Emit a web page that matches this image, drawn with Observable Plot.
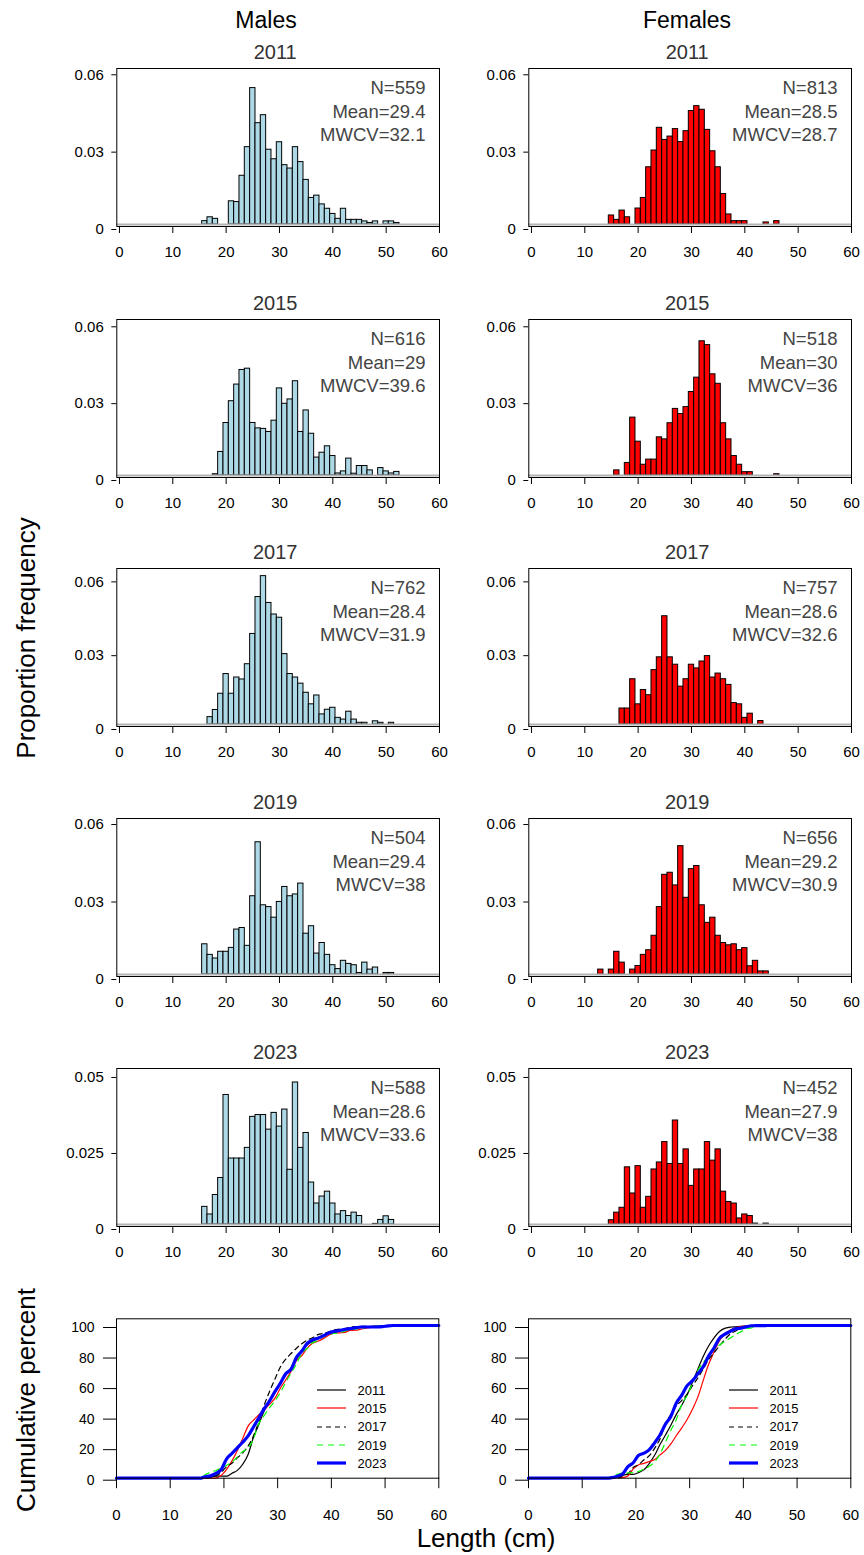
<!DOCTYPE html>
<html><head><meta charset="utf-8">
<script src="https://cdn.jsdelivr.net/npm/d3@7"></script>
<script src="https://cdn.jsdelivr.net/npm/@observablehq/plot@0.6"></script>
<style>
body{margin:0;background:#fff;font-family:"Liberation Sans",Arial,sans-serif;}
#root{position:relative;width:864px;height:1555px;overflow:hidden;background:#fff;}
.panel{position:absolute;}
.lbl{position:absolute;white-space:nowrap;color:#000;transform:translate(-50%,-50%);}
.rot{transform:translate(-50%,-50%) rotate(-90deg);}
.leg{position:absolute;font-size:13px;}
.legrow{display:flex;align-items:center;height:18.3px;}
.legrow svg{margin-right:12px;}
</style></head><body><div id="root"></div><script>
const FONT = '"Liberation Sans", Arial, sans-serif';
const years = [2011, 2015, 2017, 2019, 2023];
const xTicks = [0, 10, 20, 30, 40, 50, 60];
const yTicks = [[0,0.03,0.06],[0,0.03,0.06],[0,0.03,0.06],[0,0.03,0.06],[0,0.025,0.05]];
const yTickLabels = [["0","0.03","0.06"],["0","0.03","0.06"],["0","0.03","0.06"],["0","0.03","0.06"],["0","0.025","0.05"]];
const yMax = [0.0605, 0.0609, 0.0634, 0.0604, 0.0513];
const cumTicks = [0, 20, 40, 60, 80, 100];

const maleN = [559, 616, 762, 504, 588];
const maleMean = ["29.4", "29", "28.4", "29.4", "28.6"];
const maleMWCV = ["32.1", "39.6", "31.9", "38", "33.6"];
const femaleN = [813, 518, 757, 656, 452];
const femaleMean = ["28.5", "30", "28.6", "29.2", "27.9"];
const femaleMWCV = ["28.7", "36", "32.6", "30.9", "38"];

// [length (cm), proportion]
const m2011 = [[16,.0013],[17,.0028],[18,.0022],[21,.009],[22,.0087],[23,.0189],[24,.030],[25,.0529],[26,.0393],[27,.0424],[28,.029],[29,.0253],[30,.0319],[31,.023],[32,.0217],[33,.030],[34,.0242],[35,.0173],[36,.0103],[37,.0112],[38,.0078],[39,.0061],[40,.0041],[41,.0022],[42,.0061],[43,.0018],[44,.0018],[45,.0018],[46,.0012],[47,.0006],[48,.0012],[50,.0012],[51,.0012],[52,.0006]];
const f2011 = [[15,.0035],[16,.0018],[17,.0054],[18,.0028],[20,.0062],[21,.0103],[22,.0222],[23,.0287],[24,.0375],[25,.0328],[26,.0341],[27,.037],[28,.032],[29,.0362],[30,.044],[31,.0459],[32,.0445],[33,.0367],[34,.0284],[35,.0222],[36,.0118],[37,.0039],[38,.0013],[39,.0013],[40,.0013],[44,.0008],[46,.0013]];
const m2015 = [[18,.0005],[19,.0092],[20,.0205],[21,.029],[22,.0355],[23,.0412],[24,.0417],[25,.0205],[26,.0184],[27,.0182],[28,.017],[29,.0214],[30,.034],[31,.028],[32,.0297],[33,.0368],[34,.017],[35,.0254],[36,.0163],[37,.007],[38,.0089],[39,.0114],[40,.0076],[41,.0008],[42,.0016],[43,.0066],[44,.0007],[45,.0037],[46,.0037],[47,.002],[49,.0029],[50,.0016],[51,.0008],[52,.0014]];
const f2015 = [[16,.002],[18,.0049],[19,.0226],[20,.0132],[21,.0042],[22,.0062],[23,.0062],[24,.0149],[25,.0141],[26,.0204],[27,.026],[28,.024],[29,.0267],[30,.0326],[31,.0382],[32,.0524],[33,.0509],[34,.0395],[35,.0358],[36,.0204],[37,.0141],[38,.0076],[39,.0042],[40,.0013],[41,.0013],[46,.0005]];
const m2017 = [[17,.003],[18,.0059],[19,.0125],[20,.0205],[21,.0125],[22,.0191],[23,.0183],[24,.0245],[25,.0368],[26,.0518],[27,.0603],[28,.0494],[29,.0447],[30,.0434],[31,.0286],[32,.0205],[33,.0191],[34,.0166],[35,.0129],[36,.0082],[37,.0118],[38,.0041],[39,.006],[40,.0068],[41,.0027],[42,.002],[43,.0052],[44,.002],[45,.0007],[46,.0007],[48,.0013],[49,.0007],[51,.0007]];
const f2017 = [[17,.0065],[18,.0065],[19,.0184],[20,.0082],[21,.014],[22,.0119],[23,.0221],[24,.0273],[25,.044],[26,.0273],[27,.0243],[28,.0154],[29,.0184],[30,.0243],[31,.0228],[32,.0256],[33,.0278],[34,.0191],[35,.0207],[36,.0184],[37,.0161],[38,.0087],[39,.0082],[40,.0027],[41,.0044],[43,.0014]];
const m2019 = [[16,.0117],[17,.0076],[18,.0062],[19,.0088],[20,.0088],[21,.0103],[22,.0174],[23,.018],[24,.0111],[25,.0303],[26,.0512],[27,.0268],[28,.0261],[29,.022],[30,.0281],[31,.0339],[32,.0303],[33,.031],[34,.0352],[35,.0158],[36,.0187],[37,.0081],[38,.0122],[39,.0076],[40,.0036],[41,.0021],[42,.0053],[43,.0041],[44,.0036],[45,.0006],[46,.0046],[47,.0019],[48,.0027],[50,.0006],[51,.0006]];
const f2019 = [[13,.0019],[15,.0019],[16,.0088],[17,.0046],[19,.0019],[20,.0033],[21,.0076],[22,.0094],[23,.015],[24,.0261],[25,.0386],[26,.0394],[27,.0345],[28,.0497],[29,.0297],[30,.0408],[31,.042],[32,.0268],[33,.02],[34,.022],[35,.015],[36,.0122],[37,.0113],[38,.0117],[39,.0094],[40,.0102],[41,.0032],[42,.0053],[43,.0012],[44,.0012]];
const m2023 = [[16,.0058],[17,.0033],[18,.0097],[19,.0153],[20,.0426],[21,.0217],[22,.0217],[23,.0217],[24,.0252],[25,.0354],[26,.036],[27,.036],[28,.0312],[29,.0367],[30,.0322],[31,.0378],[32,.018],[33,.0467],[34,.0252],[35,.0301],[36,.0138],[37,.0069],[38,.0092],[39,.0108],[40,.0069],[41,.0033],[42,.0044],[43,.0028],[44,.0039],[45,.0028],[48,.0002],[49,.0015],[50,.0027],[51,.0015]];
const f2023 = [[15,.0014],[16,.0039],[17,.0055],[18,.0188],[19,.0102],[20,.0192],[21,.0055],[22,.0091],[23,.0181],[24,.0204],[25,.0271],[26,.0199],[27,.0342],[28,.0199],[29,.0247],[30,.0127],[31,.0181],[32,.0181],[33,.0271],[34,.021],[35,.0247],[36,.0108],[37,.0074],[38,.0069],[39,.002],[40,.0033],[41,.0028],[42,.0003],[44,.0003]];

const maleSeries = [m2011, m2015, m2017, m2019, m2023];
const femaleSeries = [f2011, f2015, f2017, f2019, f2023];

const lineColors = ["#000000", "#FF0000", "#000000", "#00FF00", "#0000FF"];
const lineDash = [null, null, "5,4", "6,5", null];
const lineWidth = [1.2, 1.2, 1.2, 1.2, 3.2];

const root = document.getElementById("root");
const rowTop = [0, 251, 500, 750, 1000];
const colLeft = [0, 412];

function place(el, left, top) {
  el.classList.add("panel");
  el.style.left = left + "px";
  el.style.top = top + "px";
  root.appendChild(el);
}

function hist(data, i, fill, stats) {
  const ticks = yTicks[i];
  return Plot.plot({
    width: 452, height: 262,
    marginLeft: 116.3, marginRight: 13, marginTop: 68, marginBottom: 36,
    style: {background: "transparent", overflow: "visible", fontFamily: FONT, fontSize: "15px", color: "#000"},
    x: {domain: [-0.5, 60]},
    y: {domain: [0, yMax[i]], range: [224, 68]},
    marks: [
      Plot.rectY(data, {x1: d => d[0] - 0.5, x2: d => d[0] + 0.5, y: d => d[1], fill, stroke: "black", strokeWidth: 1}),
      Plot.ruleY([0], {stroke: "#b4b4b4", strokeWidth: 2}),
      Plot.frame({stroke: "black", strokeWidth: 1}),
      Plot.axisX({ticks: xTicks, tickSize: 7, tickPadding: 13, label: null, fontSize: 15, tickFormat: d => String(d)}),
      Plot.axisY({ticks, tickSize: 5, tickPadding: 8, label: null, fontSize: 15, dy: 5,
        tickFormat: d => yTickLabels[i][ticks.indexOf(d)]}),
      Plot.text([stats], {text: d => d, frameAnchor: "top-right", lineAnchor: "top", dx: -14, dy: 9, fontSize: 18.5, lineHeight: 1.27, fill: "#444"}),
      Plot.text([String(years[i])], {text: d => d, frameAnchor: "top", lineAnchor: "bottom", dx: -3, dy: -10, fontSize: 20, fill: "#333"})
    ]
  });
}

years.forEach((yr, i) => {
  place(hist(maleSeries[i], i, "#ADD8E6", `N=${maleN[i]}\nMean=${maleMean[i]}\nMWCV=${maleMWCV[i]}`), colLeft[0], rowTop[i]);
  place(hist(femaleSeries[i], i, "#FF0000", `N=${femaleN[i]}\nMean=${femaleMean[i]}\nMWCV=${femaleMWCV[i]}`), colLeft[1], rowTop[i]);
});

function cumRows(seriesList) {
  const rows = [];
  seriesList.forEach((s, j) => {
    const total = d3.sum(s, d => d[1]);
    const byLen = new Map(s);
    let c = 0;
    rows.push({year: years[j], x: 0, y: 0});
    for (let k = 0; k < 60; k++) {
      c += byLen.get(k) || 0;
      rows.push({year: years[j], x: k + 0.5, y: 100 * c / total});
    }
    rows.push({year: years[j], x: 60, y: 100});
  });
  return rows;
}

function cumPlot(seriesList) {
  const rows = cumRows(seriesList);
  return Plot.plot({
    width: 452, height: 305,
    marginLeft: 116, marginRight: 452 - 438.3, marginTop: 68.3, marginBottom: 77.3,
    style: {background: "transparent", overflow: "visible", fontFamily: FONT, fontSize: "15px", color: "#000"},
    x: {domain: [0, 60]},
    y: {domain: [0, 100], range: [227.7, 75]},
    marks: [
      ...years.map((yr, j) => Plot.line(rows.filter(r => r.year === yr), {
        x: "x", y: "y", stroke: lineColors[j], strokeWidth: lineWidth[j],
        strokeDasharray: lineDash[j] || undefined, curve: "monotone-x"
      })),
      Plot.frame({stroke: "black", strokeWidth: 1}),
      Plot.axisX({ticks: xTicks, tickSize: 10.5, tickPadding: 21, label: null, fontSize: 15, tickFormat: d => String(d)}),
      Plot.axisY({ticks: cumTicks, tickSize: 13, tickPadding: 9, label: null, fontSize: 14, dy: 2, tickFormat: d => String(d)})
    ]
  });
}

place(cumPlot(maleSeries), colLeft[0], 1250);
place(cumPlot(femaleSeries), colLeft[1], 1250);

function legend(left, top) {
  const div = document.createElement("div");
  div.className = "leg";
  div.style.left = left + "px";
  div.style.top = top + "px";
  years.forEach((yr, j) => {
    const row = document.createElement("div");
    row.className = "legrow";
    const dash = lineDash[j] ? `stroke-dasharray="${lineDash[j]}"` : "";
    row.innerHTML = `<svg width="29" height="8"><line x1="0" x2="29" y1="4" y2="4" stroke="${lineColors[j]}" stroke-width="${lineWidth[j]}" ${dash}/></svg><span>${yr}</span>`;
    div.appendChild(row);
  });
  root.appendChild(div);
}
legend(316.5, 1381);
legend(728.5, 1381);

function label(text, x, y, size, rot) {
  const d = document.createElement("div");
  d.className = "lbl" + (rot ? " rot" : "");
  d.textContent = text;
  d.style.left = x + "px";
  d.style.top = y + "px";
  d.style.fontSize = size + "px";
  root.appendChild(d);
}
label("Males", 266, 20, 23);
label("Females", 687, 20, 23);
label("Proportion frequency", 26, 638, 26, true);
label("Cumulative percent", 26, 1400, 26, true);
label("Length (cm)", 486, 1538, 26);
</script></body></html>
